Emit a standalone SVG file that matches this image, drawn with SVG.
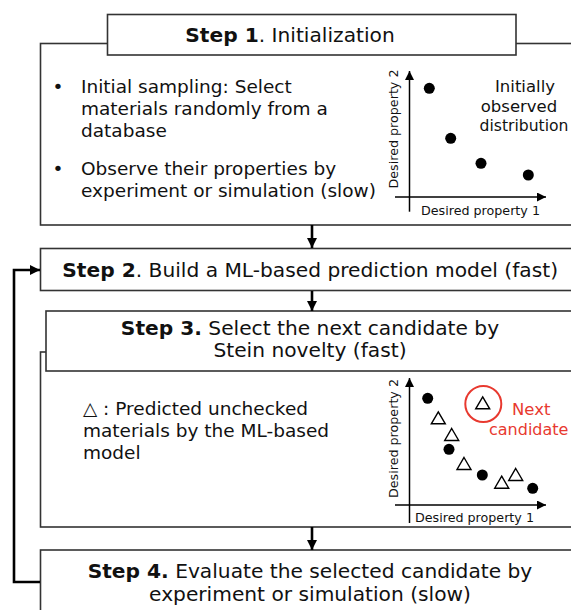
<svg xmlns="http://www.w3.org/2000/svg" width="571" height="610" viewBox="0 0 571 610">
<defs>
<marker id="ah" viewBox="0 0 10 10" refX="10" refY="5" markerWidth="4" markerHeight="4" orient="auto" markerUnits="strokeWidth"><path d="M0,0 L10,5 L0,10 z" fill="#000"/></marker>
<marker id="ax" viewBox="0 0 10 10" refX="10" refY="5" markerWidth="6" markerHeight="6" orient="auto" markerUnits="strokeWidth"><path d="M0,0 L10,5 L0,10 z" fill="#000"/></marker>
<path id="tri" d="M0,-6.5 L7,5.5 L-7,5.5 Z" fill="none" stroke="#000" stroke-width="1.4"/>
</defs>
<style>
.box{fill:#fff;stroke:#333;stroke-width:1.6}
.t{font-family:"DejaVu Sans",Verdana,sans-serif;fill:#111}
.h{font-size:20.2px}
.b{font-size:18.5px}
.lab{font-size:12.7px}
.bd{font-weight:bold}
.red{fill:#e8392f}
.conn{stroke:#000;stroke-width:2.6;fill:none}
.axis{stroke:#000;stroke-width:1.5;fill:none}
</style>
<rect width="571" height="610" fill="#fff"/>

<g id="step1">
<rect class="box" x="40.5" y="43.5" width="560" height="181.5"/>
<rect class="box" x="107.5" y="14.5" width="408.5" height="40.5"/>
<text class="t h" x="290" y="42" text-anchor="middle"><tspan class="bd">Step 1</tspan>. Initialization</text>
<text class="t b" x="58" y="93" text-anchor="middle">•</text>
<text class="t b" x="81" y="93">Initial sampling: Select</text>
<text class="t b" x="81" y="115">materials randomly from a</text>
<text class="t b" x="81" y="137">database</text>
<text class="t b" x="58" y="175" text-anchor="middle">•</text>
<text class="t b" x="81" y="175">Observe their properties by</text>
<text class="t b" x="81" y="197">experiment or simulation (slow)</text>
<g id="plot1">
<line class="axis" x1="409.5" y1="211.7" x2="409.5" y2="71" marker-end="url(#ax)"/>
<line class="axis" x1="395" y1="197" x2="546" y2="197" marker-end="url(#ax)"/>
<text class="t lab" transform="translate(398,129) rotate(-90)" text-anchor="middle">Desired property 2</text>
<text class="t lab" x="421" y="215">Desired property 1</text>
<circle cx="429.3" cy="88.3" r="5.5" fill="#000"/>
<circle cx="450.7" cy="138.3" r="5.5" fill="#000"/>
<circle cx="481" cy="163.3" r="5.5" fill="#000"/>
<circle cx="528.3" cy="175" r="5.5" fill="#000"/>
<text class="t" font-size="16.5" x="525" y="92" text-anchor="middle">Initially</text>
<text class="t" font-size="16.5" x="519" y="112" text-anchor="middle">observed</text>
<text class="t" font-size="15.6" x="524" y="131" text-anchor="middle">distribution</text>
</g>
</g>

<g id="step2">
<rect class="box" x="40.5" y="248.5" width="560" height="42"/>
<text class="t h" x="62.3" y="277"><tspan class="bd">Step 2</tspan>. Build a ML-based prediction model (fast)</text>
</g>

<g id="step3">
<rect class="box" x="40.5" y="352" width="560" height="175"/>
<rect class="box" x="46" y="311" width="560" height="60"/>
<text class="t h" x="310" y="335" text-anchor="middle"><tspan class="bd">Step 3.</tspan> Select the next candidate by</text>
<text class="t h" x="310" y="357" text-anchor="middle">Stein novelty (fast)</text>
<text class="t b" x="83" y="415">△ : Predicted unchecked</text>
<text class="t b" x="83" y="437">materials by the ML-based</text>
<text class="t b" x="83" y="459">model</text>
<g id="plot2">
<line class="axis" x1="409.5" y1="523" x2="409.5" y2="378" marker-end="url(#ax)"/>
<line class="axis" x1="395" y1="505" x2="546" y2="505" marker-end="url(#ax)"/>
<text class="t lab" transform="translate(398,438.5) rotate(-90)" text-anchor="middle">Desired property 2</text>
<text class="t lab" x="415" y="521.7">Desired property 1</text>
<circle cx="427.7" cy="398.3" r="5.5" fill="#000"/>
<circle cx="449" cy="449.3" r="5.5" fill="#000"/>
<circle cx="482.3" cy="475" r="5.5" fill="#000"/>
<circle cx="532.7" cy="488.3" r="5.5" fill="#000"/>
<use href="#tri" x="438.3" y="418.3"/>
<use href="#tri" x="451.7" y="435"/>
<use href="#tri" x="464" y="464"/>
<use href="#tri" x="501.7" y="482.7"/>
<use href="#tri" x="515.7" y="475"/>
<use href="#tri" x="482.7" y="403.3"/>
<circle cx="483.3" cy="404" r="18" fill="none" stroke="#e8392f" stroke-width="2"/>
<text class="t red" font-size="16.5" x="512" y="415">Next</text>
<text class="t red" font-size="16" x="489" y="435">candidate</text>
</g>
</g>

<g id="step4">
<rect class="box" x="40.5" y="550" width="560" height="100"/>
<text class="t h" x="310" y="578" text-anchor="middle"><tspan class="bd">Step 4.</tspan> Evaluate the selected candidate by</text>
<text class="t h" x="310" y="601" text-anchor="middle">experiment or simulation (slow)</text>
</g>

<g id="connectors">
<line class="conn" x1="312" y1="225" x2="312" y2="248" marker-end="url(#ah)"/>
<line class="conn" x1="312" y1="291" x2="312" y2="311" marker-end="url(#ah)"/>
<line class="conn" x1="312" y1="527" x2="312" y2="550" marker-end="url(#ah)"/>
<path class="conn" stroke-width="3" d="M40,582 H14 V270 H40" marker-end="url(#ah)"/>
</g>
</svg>
